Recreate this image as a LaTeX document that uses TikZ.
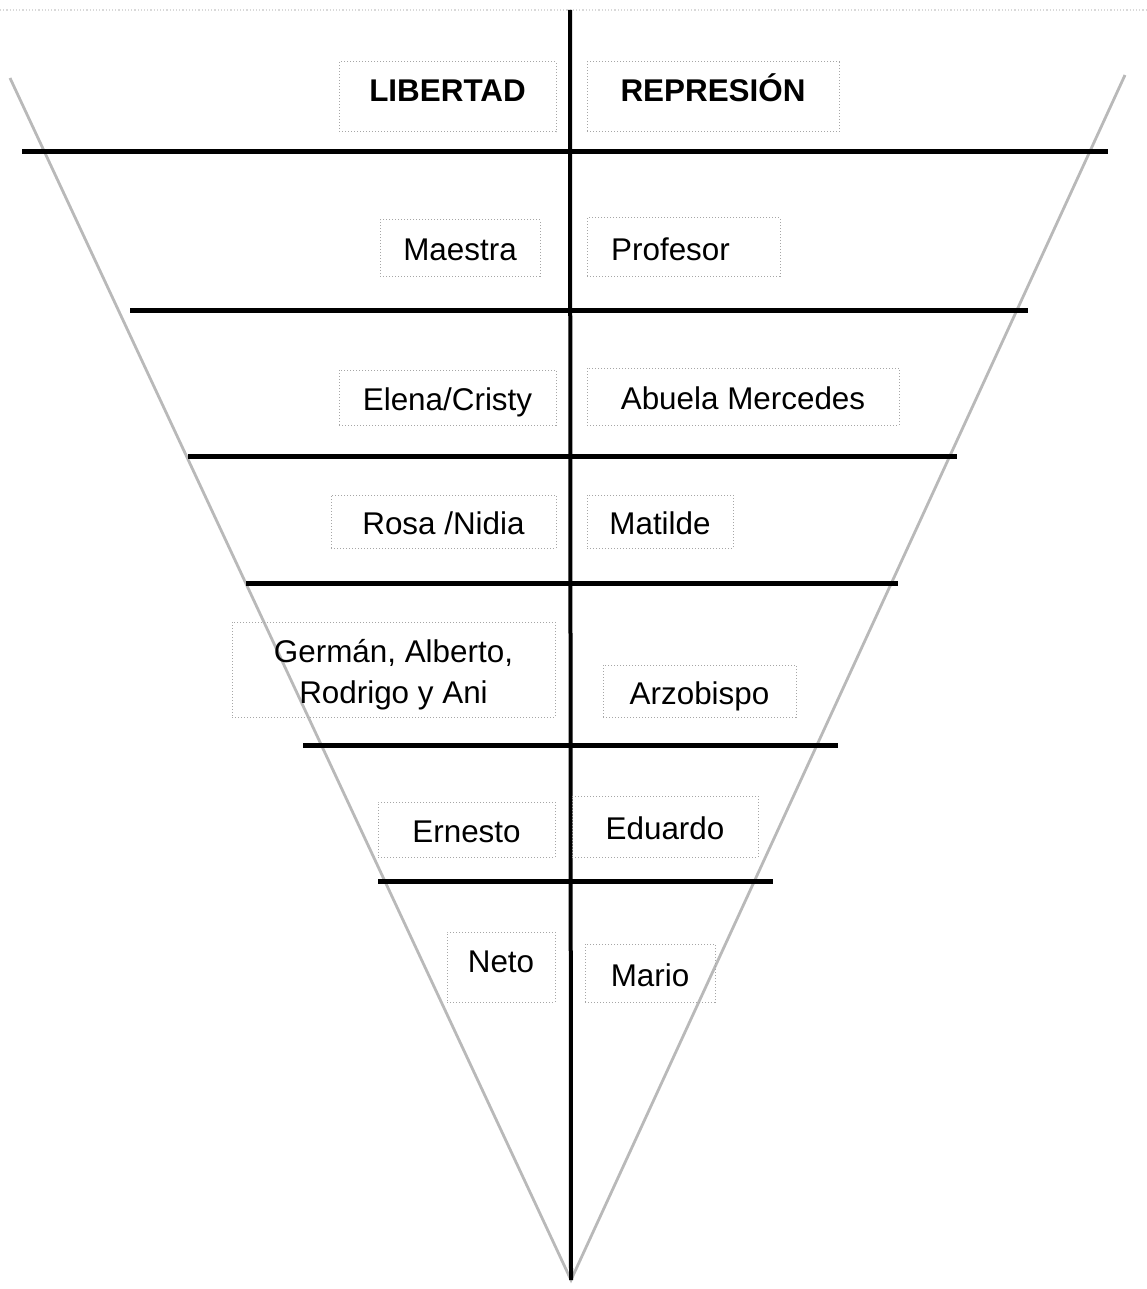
\documentclass[tikz,border=0pt]{standalone}
\usepackage{fontspec}
\setmainfont{Liberation Sans}
\usepackage{tikz}
\usetikzlibrary{positioning}

\tikzset{
  caja/.style={draw=gray!70, densely dotted, line width=0.5pt, inner sep=0pt, align=center,
    font=\fontsize{15.7}{20.5}\selectfont},
  nombre/.style={caja, text height=16pt, text depth=3pt},
  titulo/.style={caja, font=\fontsize{15.7}{20.5}\selectfont\bfseries, text height=11pt, text depth=6pt},
  linea/.style={line width=2.5pt},
  borde/.style={gray!55, line width=1.4pt}
}

\begin{document}
\begin{tikzpicture}[x=0.5pt,y=-0.5pt]
    \useasboundingbox (0,0) rectangle (1146,1289);

    % triangle
    \coordinate (vertice) at (571,1280);
    \coordinate (izq) at (10,78);
    \coordinate (der) at (1125,75);
    \draw[borde] (izq) -- (vertice) -- (der);
    \draw[gray!30, densely dotted, line width=0.6pt] (0,10) -- (1146,10);

    % levels
    \draw[linea] (22,152) -- (1108,152);
    \draw[linea] (130,310) -- (1028,310);
    \draw[linea] (188,456) -- (957,456);
    \draw[linea] (246,583) -- (898,583);
    \draw[linea] (303,745) -- (838,745);
    \draw[linea] (378,881) -- (773,881);
    \draw[line width=2pt] (570,10) -- (vertice);

    \node[titulo, minimum width=108.5pt, minimum height=35pt] (lib) at (447.5,97) {LIBERTAD};
    \node[titulo, minimum width=126pt, minimum height=35pt] (rep) at (713,97) {REPRESIÓN};

    \node[nombre, minimum width=80pt, minimum height=28pt] (mae) at (460,248) {Maestra};
    \node[nombre, minimum width=96.5pt, minimum height=29pt] (pro) at (683.5,247) {Profesor\hspace*{13pt}};

    \node[nombre, minimum width=108.5pt, minimum height=27.5pt] (ele) at (447.5,397.5) {Elena/Cristy};
    \node[nombre, minimum width=156pt, minimum height=28.5pt] (abu) at (743,396.5) {Abuela Mercedes};

    \node[nombre, minimum width=112.5pt, minimum height=26.5pt] (ros) at (443.5,521.5) {Rosa /Nidia};
    \node[nombre, minimum width=73pt, minimum height=26.5pt] (mat) at (660,521.5) {Matilde};

    \node[caja, minimum width=161.5pt, minimum height=47.5pt,
      label={[align=center, font=\fontsize{15.7}{20.5}\selectfont, yshift=-2.5pt]center:Germán, Alberto,\\Rodrigo y Ani}] (ger) at (393.5,669.5) {};
    \node[nombre, minimum width=96.5pt, minimum height=26pt] (arz) at (699.5,691) {Arzobispo};

    \node[nombre, minimum width=88.5pt, minimum height=27.5pt] (ern) at (466.5,829.5) {Ernesto};
    \node[nombre, minimum width=93pt, minimum height=30.5pt] (edu) at (665,826.5) {Eduardo};

    \node[nombre, minimum width=54pt, minimum height=35pt, text height=12pt, text depth=7pt] (net) at (501,967) {Neto};
    \node[nombre, minimum width=65pt, minimum height=29pt] (mar) at (650,973) {Mario};
\end{tikzpicture}
\end{document}
